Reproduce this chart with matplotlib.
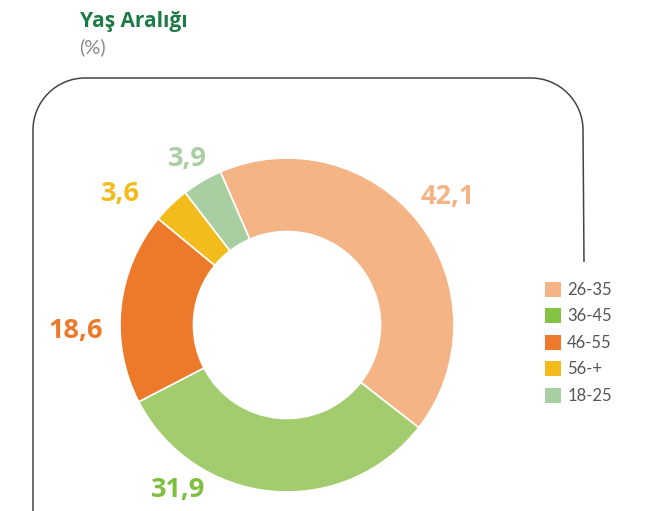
import matplotlib
matplotlib.use("Agg")
import matplotlib.pyplot as plt
from matplotlib.path import Path
from matplotlib.patches import PathPatch, Patch

categories = ["26-35", "36-45", "46-55", "56-+", "18-25"]
values = [42.1, 31.9, 18.6, 3.6, 3.9]
value_labels = ["42,1", "31,9", "18,6", "3,6", "3,9"]
wedge_colors = ["#F4B485", "#A3CC6F", "#EC7A2A", "#F2BD1C", "#A9CEA1"]
legend_colors = ["#F4B485", "#84C242", "#EC7A2A", "#F2BD1C", "#A9CEA1"]
label_colors = ["#F4B485", "#7DBF3F", "#EC7A2A", "#F2BD1C", "#A9CEA1"]

W, H = 650, 511
fig = plt.figure(figsize=(6.5, 5.11), dpi=100)
fig.patch.set_facecolor("white")

def fx(x):
    return x / W
def fy(y):
    return 1 - y / H

# Frame (partial rounded rectangle)
r = 52
verts = [(584, 262), (583, 78 + r), (583, 78 + r * 0.45), (583 - r * 0.45, 78), (583 - r, 78),
         (33 + r, 78), (33 + r * 0.45, 78), (33, 78 + r * 0.45), (33, 78 + r), (33, 515)]
codes = [Path.MOVETO, Path.LINETO, Path.CURVE4, Path.CURVE4, Path.CURVE4,
         Path.LINETO, Path.CURVE4, Path.CURVE4, Path.CURVE4, Path.LINETO]
path = Path([(fx(x), fy(y)) for x, y in verts], codes)
fig.add_artist(PathPatch(path, transform=fig.transFigure, fill=False,
                         edgecolor="#444444", linewidth=1.1))

# Titles
fig.text(fx(80), fy(21), "Yaş Aralığı", fontsize=15, fontweight="bold",
         color="#1E7A45", family="Open Sans", va="center", ha="left")
fig.text(fx(79), fy(47), "(%)", fontsize=14.5, color="#8A8A8A",
         family="Lato", va="center", ha="left")

# Donut
cx, cy, R = 287, 325, 167
ax = fig.add_axes([fx(cx - R), fy(cy + R), 2 * R / W, 2 * R / H])
ax.pie(values, colors=wedge_colors, startangle=113.5, counterclock=False,
       radius=1.0, wedgeprops=dict(width=0.44, edgecolor="white", linewidth=1.2))
ax.set_xlim(-1, 1)
ax.set_ylim(-1, 1)
ax.set_aspect("equal")
ax.axis("off")

label_pos = [(448, 197), (178, 490), (76, 331), (120, 194), (187, 159)]
for (x, y), txt, c in zip(label_pos, value_labels, label_colors):
    fig.text(fx(x), fy(y), txt, fontsize=19.5, fontweight="bold", color=c,
             family="Open Sans", ha="center", va="center")

handles = [Patch(facecolor=c, edgecolor="none") for c in legend_colors]
leg = fig.legend(handles, categories, loc="upper left",
                 bbox_to_anchor=(fx(538), fy(275)), frameon=False,
                 prop={"family": "Lato", "size": 12},
                 handlelength=0.95, handleheight=1.0, handletextpad=0.4,
                 labelspacing=0.62, borderaxespad=0)
for t in leg.get_texts():
    t.set_color("#555555")

fig.savefig("out.png", dpi=100, facecolor="white")
